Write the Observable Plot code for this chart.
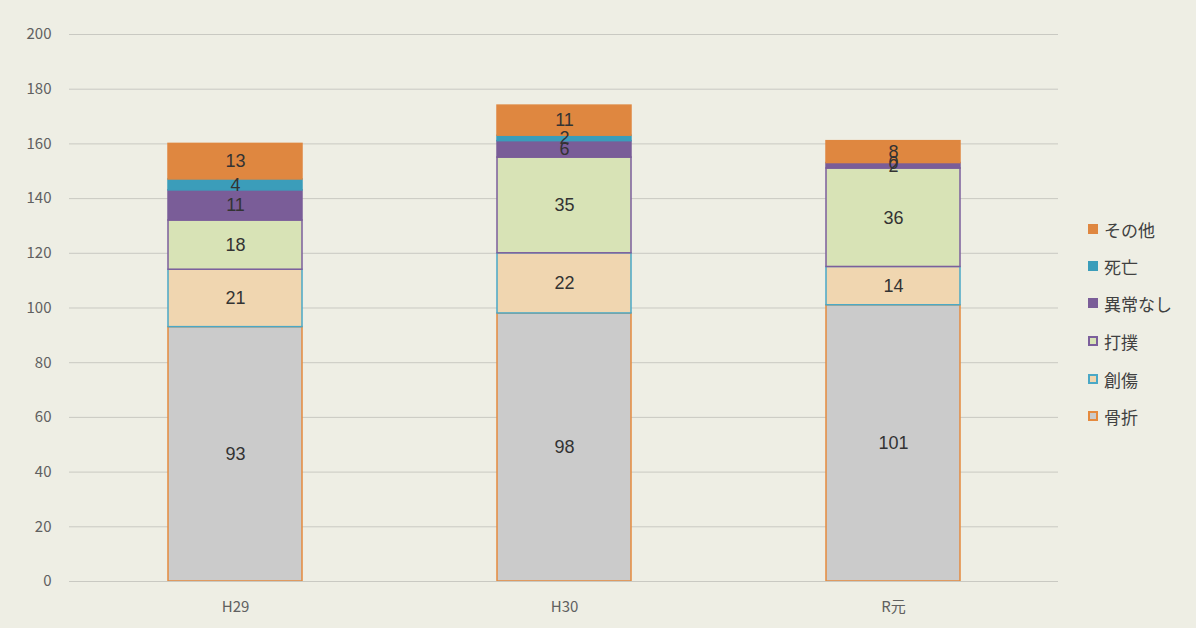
<!DOCTYPE html>
<html>
<head>
<meta charset="utf-8">
<script src="https://cdn.jsdelivr.net/npm/d3@7"></script>
<script src="https://cdn.jsdelivr.net/npm/@observablehq/plot@0.6"></script>
<style>
  html, body { margin: 0; padding: 0; background: #eeeee4; }
  #wrap { position: relative; width: 1196px; height: 628px; overflow: hidden; }
  #legend { position: absolute; left: 1088px; top: 0; font-family: "Noto Sans CJK JP", sans-serif; font-size: 17px; color: #404040; }
  .item { position: absolute; left: 0; white-space: nowrap; display: flex; align-items: center; height: 24px; }
  .sw { width: 10px; height: 10px; margin-right: 6px; box-sizing: border-box; }
</style>
</head>
<body>
<div id="wrap"><div id="legend"></div></div>
<script>
const categories = ["H29", "H30", "R元"];
const series = ["骨折", "創傷", "打撲", "異常なし", "死亡", "その他"];
const values骨折 = [93, 98, 101];
const values創傷 = [21, 22, 14];
const values打撲 = [18, 35, 36];
const values異常なし = [11, 6, 2];
const values死亡 = [4, 2, 0];
const valuesその他 = [13, 11, 8];
const yTicks = [0, 20, 40, 60, 80, 100, 120, 140, 160, 180, 200];

const fills = ["#cbcbcb", "#f0d6b0", "#d8e3b6", "#7a5d98", "#3b9dba", "#df8740"];
const strokes = ["#e58a3e", "#4aa8c6", "#7c5f9c", "#7a5d98", "#3b9dba", "#df8740"];

const seriesValues = [values骨折, values創傷, values打撲, values異常なし, values死亡, valuesその他];
const data = [];
series.forEach((s, si) => {
  categories.forEach((c, ci) => {
    data.push({cat: c, series: s, value: seriesValues[si][ci], fill: fills[si], stroke: strokes[si]});
  });
});

const font = "'Noto Sans CJK JP', 'Noto Sans', sans-serif";

const chart = Plot.plot({
  width: 1196,
  height: 628,
  marginLeft: 69,
  marginRight: 138,
  marginTop: 34,
  marginBottom: 47,
  style: {background: "#eeeee4", fontFamily: font, fontSize: "14px", color: "#595959", overflow: "visible"},
  x: {domain: categories, paddingInner: 0.594, paddingOuter: 0.297, label: null},
  y: {domain: [0, 200], ticks: yTicks, label: null},
  color: {type: "identity"},
  marks: [
    Plot.gridY(yTicks, {stroke: "#c9c9c2", strokeOpacity: 1, strokeWidth: 1}),
    Plot.axisY(yTicks, {tickSize: 0, tickPadding: 18, fontSize: 15, fill: "#606060", label: null}),
    Plot.axisX({tickSize: 0, tickPadding: 20, fontSize: 15, fill: "#606060", label: null}),
    Plot.barY(data, Plot.stackY({x: "cat", y: "value", z: "series", order: series, fill: "fill", stroke: "stroke", strokeWidth: 1.5, inset: 0})),
    Plot.ruleY([0], {stroke: "#c9c9c2"}),
    Plot.text(data, Plot.stackY({x: "cat", y: "value", z: "series", order: series, text: d => String(d.value), fontSize: 18, fill: "#333333", fontFamily: "'Liberation Sans', sans-serif"}))
  ]
});
document.getElementById("wrap").prepend(chart);
chart.style.position = "absolute";
chart.style.left = "0";
chart.style.top = "0";

const legend = document.getElementById("legend");
const legendOrder = ["その他", "死亡", "異常なし", "打撲", "創傷", "骨折"];
const legendY = [229, 266, 303, 341, 379, 416];
legendOrder.forEach((s, i) => {
  const si = series.indexOf(s);
  const item = document.createElement("div");
  item.className = "item";
  item.style.top = (legendY[i] - 12) + "px";
  const sw = document.createElement("div");
  sw.className = "sw";
  sw.style.background = fills[si];
  sw.style.border = "2px solid " + strokes[si];
  item.appendChild(sw);
  const t = document.createElement("span");
  t.textContent = s;
  item.appendChild(t);
  legend.appendChild(item);
});
</script>
</body>
</html>
